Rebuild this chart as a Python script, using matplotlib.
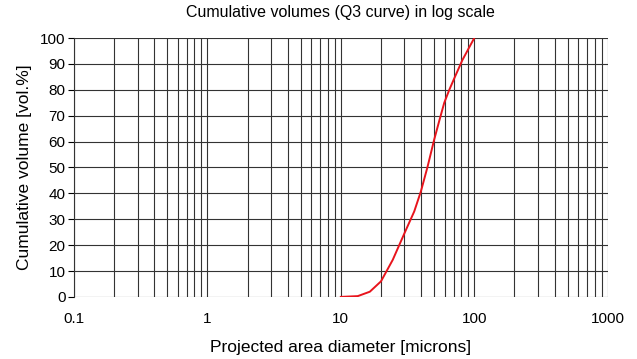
import numpy as np
import matplotlib.pyplot as plt

plt.rcParams['font.family'] = ['Liberation Sans', 'DejaVu Sans']

# diameter [microns] and cumulative volume [vol.%]
diam = [10, 13.4, 16.5, 20, 24.5, 30, 35.5, 39.8, 44.7, 50, 55, 59.6, 65, 70.8, 81.5, 100]
cumvol = [0, 0.3, 2, 6, 14.3, 24.6, 33, 40.7, 50.3, 60.6, 68.5, 75, 80, 84.4, 91.5, 100]

xticks = [0.1, 1, 10, 100, 1000]
xlabels = ['0.1', '1', '10', '100', '1000']
yticks = list(range(0, 101, 10))

fig = plt.figure(figsize=(6.37, 3.59), dpi=100)
ax = fig.add_axes([0.116, 0.173, 0.838, 0.721])

ax.plot(diam, cumvol, color='#e8141c', lw=1.4, zorder=3)

ax.set_xscale('log')
ax.set_xlim(0.1, 1000)
ax.set_ylim(0, 100)
ax.set_xticks(xticks)
ax.set_xticklabels(xlabels)
ax.set_yticks(yticks)
ax.tick_params(axis='x', length=0, pad=11, labelsize=11)
ax.tick_params(axis='y', length=4, direction='out', pad=2, labelsize=11)
ax.tick_params(axis='x', which='minor', length=0)

ax.grid(True, which='both', axis='x', color='#333333', lw=0.8)
ax.grid(True, which='major', axis='y', color='#333333', lw=0.8)
for s in ['top', 'right', 'bottom']:
    ax.spines[s].set_visible(False)
ax.spines['left'].set_color('#333333')
ax.spines['left'].set_linewidth(0.8)

ax.set_title('Cumulative volumes (Q3 curve) in log scale', fontsize=11.5, pad=15)
ax.set_xlabel('Projected area diameter [microns]', fontsize=12.5, labelpad=10)
ax.set_ylabel('Cumulative volume [vol.%]', fontsize=12.5, labelpad=6)

fig.savefig('out.png', dpi=100)
